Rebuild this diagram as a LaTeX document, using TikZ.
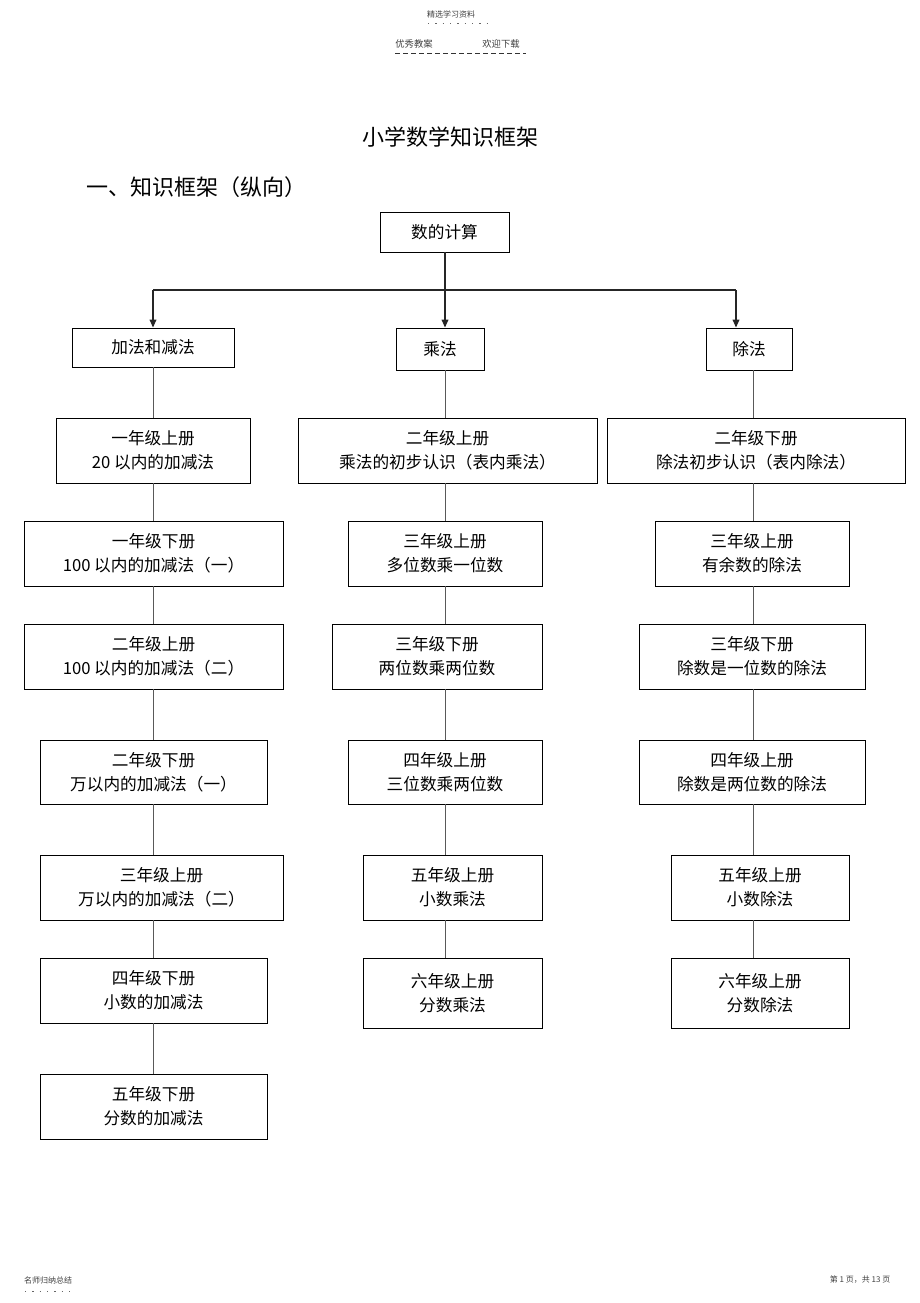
\documentclass[tikz,border=0pt]{standalone}
\usepackage{fontspec}
\setmainfont{Noto Sans CJK SC}
\usepackage{tikz}
\usetikzlibrary{arrows.meta, positioning}

\begin{document}
\begin{tikzpicture}[
    x=0.75pt, y=-0.75pt,
    box/.style={
        rectangle,
        draw,
        line width=0.6pt,
        align=center,
        inner sep=0pt,
        minimum height=48.75pt,
        font=\fontsize{12.5}{18}\selectfont
    },
    headbox/.style={
        box,
        minimum height=30pt
    },
    tinytext/.style={inner sep=0pt, font=\fontsize{6}{7}\selectfont, text=black!75},
    dotline/.style={black!60, line width=0.6pt, dash pattern=on 1pt off 4.5pt},
    link/.style={draw=black!65, line width=0.6pt},
    arrow/.style={-{Triangle[width=5pt,length=6pt]}, line width=1.1pt, draw=black!85, fill=black!85}
]
\useasboundingbox (0,0) rectangle (920,1303);

% --- 页眉・页脚 ---
\node[tinytext] (jingxuan) at (451,14) {精选学习资料};
\node[tinytext, font=\fontsize{7}{8}\selectfont] (youxiu) at (414,44) {优秀教案};
\node[tinytext, font=\fontsize{7}{8}\selectfont] (huanying) at (501,44) {欢迎下载};
\node[tinytext] (mingshi) at (48,1280) {名师归纳总结};
\node[tinytext] (pageno) at (860,1280) {第 1 页，共 13 页};
\coordinate (dotA) at (428,23);
\coordinate (dotB) at (492,23);
\coordinate (dashA) at (395,53);
\coordinate (dashB) at (526,53);
\coordinate (footA) at (25,1291);
\coordinate (footB) at (74,1291);
\draw[dotline] (dotA) -- (dotB);
\draw[black!80, line width=0.6pt, dash pattern=on 3.5pt off 2.5pt] (dashA) -- (dashB);
\draw[dotline] (footA) -- (footB);

% --- 标题 ---
\node[font=\fontsize{16.5}{20}\selectfont] (title) at (450,137) {小学数学知识框架};
\node[anchor=west, font=\fontsize{16.5}{20}\selectfont] (section) at (82,187) {一、知识框架（纵向）};

% --- 列的位置 ---
\coordinate (colL) at (153,0);
\coordinate (colM) at (445,0);
\coordinate (colR) at (753,0);
\coordinate (colD) at (736,0);
\coordinate (bar)  at (445,290);

% --- 上段 ---
\node[headbox, minimum width=96.75pt] (calc)   at (444.5,232) {数的计算};
\node[headbox, minimum width=121.5pt, minimum height=29.25pt] (addsub) at (153,347.5) {加法和减法};
\node[headbox, minimum width=66pt, minimum height=31.5pt]  (mul)    at (440,349) {乘法};
\node[headbox, minimum width=64.5pt, minimum height=31.5pt] (div)   at (749,349) {除法};

% --- 左列（加法和减法） ---
\node[box, minimum width=145.5pt]  (L1) at (153,450.5)   {一年级上册\\20 以内的加减法};
\node[box, minimum width=194.25pt] (L2) at (153.5,553.5) {一年级下册\\100 以内的加减法（一）};
\node[box, minimum width=194.25pt] (L3) at (153.5,656.5) {二年级上册\\100 以内的加减法（二）};
\node[box, minimum width=170.25pt, minimum height=48pt] (L4) at (153.5,772) {二年级下册\\万以内的加减法（一）};
\node[box, minimum width=182.25pt] (L5) at (161.5,887.5) {三年级上册\\万以内的加减法（二）};
\node[box, minimum width=170.25pt] (L6) at (153.5,990.5) {四年级下册\\小数的加减法};
\node[box, minimum width=170.25pt] (L7) at (153.5,1106.5) {五年级下册\\分数的加减法};

% --- 中列（乘法） ---
\node[box, minimum width=224.25pt] (M1) at (447.5,450.5) {二年级上册\\乘法的初步认识（表内乘法）};
\node[box, minimum width=145.5pt]  (M2) at (445,553.5)   {三年级上册\\多位数乘一位数};
\node[box, minimum width=157.5pt]  (M3) at (437,656.5)   {三年级下册\\两位数乘两位数};
\node[box, minimum width=145.5pt, minimum height=48pt] (M4) at (445,772) {四年级上册\\三位数乘两位数};
\node[box, minimum width=134.25pt] (M5) at (452.5,887.5) {五年级上册\\小数乘法};
\node[box, minimum width=134.25pt, minimum height=52.5pt] (M6) at (452.5,993) {六年级上册\\分数乘法};

% --- 右列（除法） ---
\node[box, minimum width=223.5pt] (R1) at (756,450.5) {二年级下册\\除法初步认识（表内除法）};
\node[box, minimum width=145.5pt] (R2) at (752,553.5) {三年级上册\\有余数的除法};
\node[box, minimum width=169.5pt] (R3) at (752,656.5) {三年级下册\\除数是一位数的除法};
\node[box, minimum width=169.5pt, minimum height=48pt] (R4) at (752,772) {四年级上册\\除数是两位数的除法};
\node[box, minimum width=133.5pt] (R5) at (760,887.5) {五年级上册\\小数除法};
\node[box, minimum width=133.5pt, minimum height=52.5pt] (R6) at (760,993) {六年级上册\\分数除法};

% --- 箭头：数的计算 → 三类 ---
\draw[line width=1.1pt, black!85] (calc.south -| colM) -- (bar);
\draw[line width=1.1pt, black!85] (bar -| colL) -- (bar -| colD);
\draw[arrow] (bar -| colL) -- (addsub.north -| colL);
\draw[arrow] (bar) -- (mul.north -| colM);
\draw[arrow] (bar -| colD) -- (div.north -| colD);

% --- 左列连线 ---
\draw[link] (addsub.south -| colL) -- (L1.north -| colL);
\draw[link] (L1.south -| colL) -- (L2.north -| colL);
\draw[link] (L2.south -| colL) -- (L3.north -| colL);
\draw[link] (L3.south -| colL) -- (L4.north -| colL);
\draw[link] (L4.south -| colL) -- (L5.north -| colL);
\draw[link] (L5.south -| colL) -- (L6.north -| colL);
\draw[link] (L6.south -| colL) -- (L7.north -| colL);

% --- 中列连线 ---
\draw[link] (mul.south -| colM) -- (M1.north -| colM);
\draw[link] (M1.south -| colM) -- (M2.north -| colM);
\draw[link] (M2.south -| colM) -- (M3.north -| colM);
\draw[link] (M3.south -| colM) -- (M4.north -| colM);
\draw[link] (M4.south -| colM) -- (M5.north -| colM);
\draw[link] (M5.south -| colM) -- (M6.north -| colM);

% --- 右列连线 ---
\draw[link] (div.south -| colR) -- (R1.north -| colR);
\draw[link] (R1.south -| colR) -- (R2.north -| colR);
\draw[link] (R2.south -| colR) -- (R3.north -| colR);
\draw[link] (R3.south -| colR) -- (R4.north -| colR);
\draw[link] (R4.south -| colR) -- (R5.north -| colR);
\draw[link] (R5.south -| colR) -- (R6.north -| colR);

\end{tikzpicture}
\end{document}
